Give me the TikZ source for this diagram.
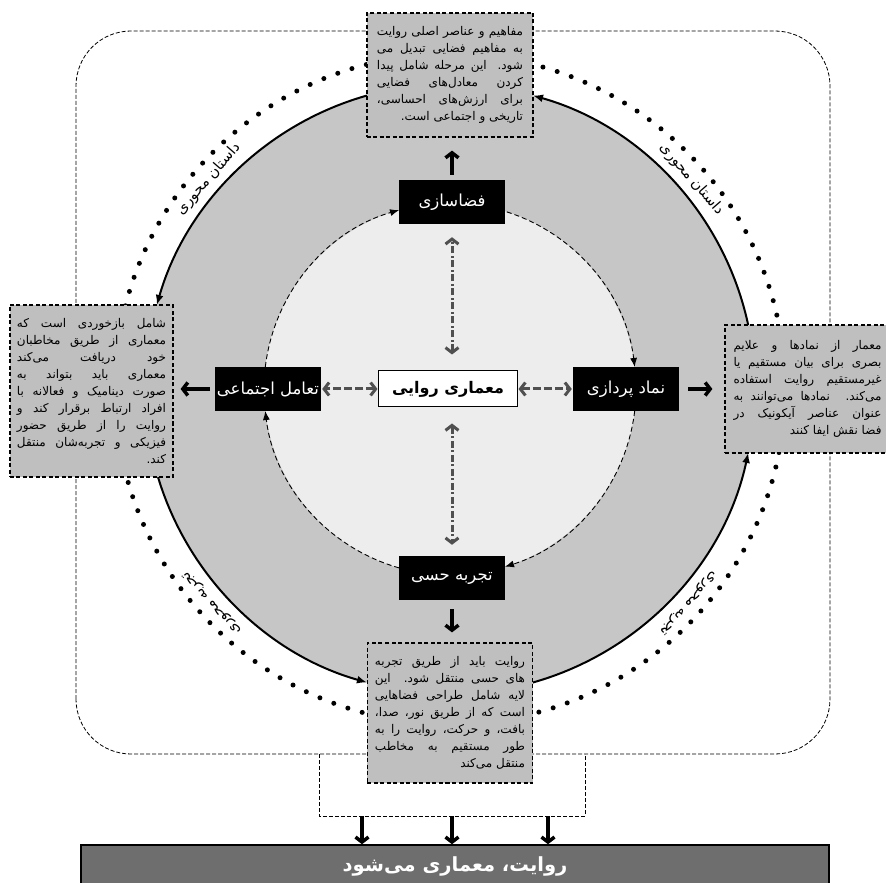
\documentclass[tikz,border=0pt]{standalone}
\usepackage{fontspec}
\newfontfamily\fa[Script=Arabic]{DejaVu Sans}
\TeXXeTstate=1
\usetikzlibrary{arrows.meta,positioning}

\definecolor{ringfill}{HTML}{C6C6C6}
\definecolor{corefill}{HTML}{EDEDED}
\definecolor{notefill}{HTML}{BFBFBF}
\definecolor{barfill}{HTML}{6E6E6E}
\definecolor{linkgray}{HTML}{505050}

% one justified line and one closing line of a right-to-left note
\newcommand\jline[1]{\hbox to\hsize{\beginR #1\endR}}
\newcommand\eline[1]{\hbox to\hsize{\hfil\beginR #1\endR}}

\begin{document}
\begin{tikzpicture}[x=1pt,y=1pt,
    stage/.style={fill=black,text=white,minimum width=106pt,minimum height=44pt,inner sep=0pt,
      font=\fa\fontsize{16.5}{18}\selectfont},
    hub/.style={draw,fill=white,line width=1pt,minimum width=138pt,minimum height=36pt,inner sep=0pt,
      font=\fa\bfseries\fontsize{16}{18}\selectfont},
    note/.style={draw,fill=notefill,line width=1.2pt,dash pattern=on 4pt off 2.5pt,inner sep=0pt,
      font=\fa\fontsize{12}{17}\selectfont},
    bar/.style={draw,line width=1.5pt,fill=barfill,text=white,minimum width=748pt,minimum height=42pt,
      font=\fa\bfseries\fontsize{19.5}{22}\selectfont},
    frame/.style={line width=0.8pt,dash pattern=on 4pt off 2pt},
    dotring/.style={line width=5pt,line cap=round,dash pattern=on 0pt off 14.9pt},
    rim/.style={line width=2pt,-{Latex[length=10pt,width=8pt]}},
    spin/.style={line width=0.9pt,dash pattern=on 5pt off 3pt,-{Latex[length=9pt,width=7pt]}},
    link/.style={draw=linkgray,line width=3pt,
      {Straight Barb[length=5pt,width=13pt]}-{Straight Barb[length=5pt,width=13pt]}},
    push/.style={line width=3.5pt,-{Straight Barb[length=5pt,width=13pt]}},
    ringlabel/.style={font=\fa\fontsize{14.5}{16}\selectfont}]
  \useasboundingbox (-450,-494) rectangle (436,389);

  % outer frame and the way down to the result
  \draw[frame,rounded corners=55pt] (-374,-365) rectangle (380,358);
  \coordinate (f_l) at (-131,-365);
  \coordinate (f_r) at (135,-365);
  \draw[frame] (f_l) -- ++(0,-62) coordinate (j_l) -- ++(266,0) coordinate (j_r) -- (f_r);

  % rings
  \draw[dotring] (0,0) circle[radius=335];
  \fill[ringfill] (0,0) circle[radius=305];
  \draw[rim] (12.1:305) arc[start angle=12.1,end angle=74.2,radius=305];
  \draw[rim] (105.8:305) arc[start angle=105.8,end angle=164,radius=305];
  \draw[rim] (196.8:305) arc[start angle=196.8,end angle=254.2,radius=305];
  \draw[rim] (285.6:305) arc[start angle=285.6,end angle=347.9,radius=305];
  \fill[corefill] (0,0) circle[radius=186];
  \draw[spin] (173.2:186) arc[start angle=173.2,end angle=105.9,radius=186];
  \draw[spin] (72.2:186) arc[start angle=72.2,end angle=6.8,radius=186];
  \draw[spin] (-6.8:186) arc[start angle=-6.8,end angle=-72.8,radius=186];
  \draw[spin] (-105.9:186) arc[start angle=-105.9,end angle=-173.2,radius=186];

  \foreach \a/\t in {139/{داستان محوری},41/{داستان محوری},222/{تجربه محوری},318/{تجربه محوری}}
    \node[ringlabel,rotate=\a-90] at (\a:320) {\beginR\t\endR};

  % the four stages round the hub
  \node[hub] (hub) at (-2,0) {\beginR معماری روایی\endR};
  \node[stage] (s_up) at (2,187) {\beginR فضاسازی\endR};
  \node[stage] (s_right) at (176,0) {\beginR نماد پردازی\endR};
  \node[stage] (s_down) at (2,-189) {\beginR تجربه حسی\endR};
  \node[stage] (s_left) at (-182,0) {\beginR تعامل اجتماعی\endR};

  \draw[link,dash pattern=on 7pt off 2.5pt on 2pt off 2.5pt,shorten <=16pt,shorten >=13pt] (hub.north -| s_up) -- (s_up);
  \draw[link,dash pattern=on 7pt off 2.5pt on 2pt off 2.5pt,shorten <=16pt,shorten >=11pt] (hub.south -| s_down) -- (s_down);
  \draw[link,dash pattern=on 8pt off 3pt,shorten <=1pt,shorten >=1pt] (hub) -- (s_right);
  \draw[link,dash pattern=on 8pt off 3pt,shorten <=1pt,shorten >=1pt] (hub) -- (s_left);

  % notes
  \node[note,minimum width=166pt,minimum height=124pt] (d_up) at (0,314) {\vbox{\hsize=146pt
    \jline{مفاهیم و عناصر اصلی روایت}
    \jline{به مفاهیم فضایی تبدیل می}
    \jline{شود. این مرحله شامل پیدا}
    \jline{کردن معادل^^^^200cهای فضایی}
    \jline{برای ارزش^^^^200cهای احساسی،}
    \eline{تاریخی و اجتماعی است.}}};
  \node[note,minimum width=165pt,minimum height=128pt] (d_right) at (357.5,0) {\vbox{\hsize=148pt
    \jline{معمار از نمادها و علایم}
    \jline{بصری برای بیان مستقیم یا}
    \jline{غیرمستقیم روایت استفاده}
    \jline{می^^^^200cکند. نمادها می^^^^200cتوانند به}
    \jline{عنوان عناصر آیکونیک در}
    \eline{فضا نقش ایفا کنند}}};
  \node[note,minimum width=165pt,minimum height=140pt] (d_down) at (0,-324) {\vbox{\hsize=150pt
    \jline{روایت باید از طریق تجربه}
    \jline{های حسی منتقل شود. این}
    \jline{لایه شامل طراحی فضاهایی}
    \jline{است که از طریق نور، صدا،}
    \jline{بافت، و حرکت، روایت را به}
    \jline{طور مستقیم به مخاطب}
    \eline{منتقل می^^^^200cکند}}};
  \node[note,minimum width=163pt,minimum height=172pt] (d_left) at (-358.5,-2) {\vbox{\hsize=149pt
    \jline{شامل بازخوردی است که}
    \jline{معماری از طریق مخاطبان}
    \jline{خود دریافت می^^^^200cکند}
    \jline{معماری باید بتواند به}
    \jline{صورت دینامیک و فعالانه با}
    \jline{افراد ارتباط برقرار کند و}
    \jline{روایت را از طریق حضور}
    \jline{فیزیکی و تجربه^^^^200cشان منتقل}
    \eline{کند.}}};

  \draw[push,shorten <=5pt,shorten >=13pt] (s_up) -- (s_up |- d_up.south);
  \draw[push,shorten <=9pt,shorten >=10pt] (s_down) -- (s_down |- d_down.north);
  \draw[push,shorten <=9pt,shorten >=12pt] (s_right) -- (s_right -| d_right.west);
  \draw[push,shorten <=5pt,shorten >=7pt] (s_left) -- (s_left -| d_left.east);

  % result
  \node[bar] (bar) at (5,-477) {\beginR روایت، معماری می^^^^200cشود\endR};
  \draw[push] (j_l -| -88,0) -- (bar.north -| -88,0);
  \draw[push] (j_l -| 2,0) -- (bar.north -| 2,0);
  \draw[push] (j_l -| 98,0) -- (bar.north -| 98,0);
\end{tikzpicture}
\end{document}
